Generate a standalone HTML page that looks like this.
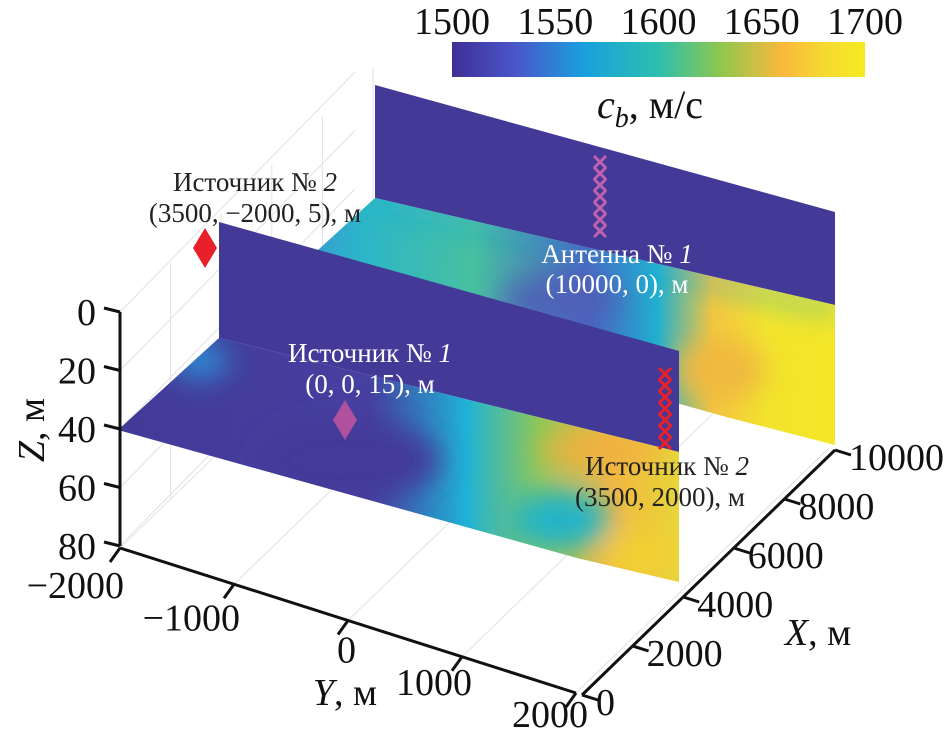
<!DOCTYPE html>
<html><head><meta charset="utf-8"><style>
body{margin:0;background:#fff;width:951px;height:735px;overflow:hidden}
svg{display:block;font-family:"Liberation Serif",serif}
</style></head><body>
<svg id="chart" width="951" height="735" viewBox="0 0 951 735">
<defs>
<linearGradient id="cb" x1="0" x2="1" y1="0" y2="0">
<stop offset="0" stop-color="#3e2f96"/><stop offset="0.15" stop-color="#4a55c8"/><stop offset="0.32" stop-color="#1aa0de"/><stop offset="0.5" stop-color="#2cbfae"/><stop offset="0.65" stop-color="#8fc74e"/><stop offset="0.8" stop-color="#f9b93c"/><stop offset="0.9" stop-color="#f6d831"/><stop offset="1" stop-color="#f4ec22"/>
</linearGradient>
<linearGradient id="backLow" gradientUnits="userSpaceOnUse" x1="280" y1="0" x2="835" y2="0">
<stop offset="0" stop-color="#3a8ed8"/><stop offset="0.15" stop-color="#2cb6c8"/><stop offset="0.35" stop-color="#48c0a0"/><stop offset="0.55" stop-color="#4a60c0"/><stop offset="0.68" stop-color="#20b0d0"/><stop offset="0.78" stop-color="#f2c640"/><stop offset="0.88" stop-color="#f2e42c"/><stop offset="1" stop-color="#f4e628"/>
</linearGradient>
<linearGradient id="frontLow" gradientUnits="userSpaceOnUse" x1="118" y1="0" x2="680" y2="0">
<stop offset="0" stop-color="#433a98"/><stop offset="0.45" stop-color="#4640a0"/><stop offset="0.62" stop-color="#1fb2d6"/><stop offset="0.75" stop-color="#8cc757"/><stop offset="0.88" stop-color="#f2b83e"/><stop offset="1" stop-color="#e7d63a"/>
</linearGradient>
<filter id="bl" filterUnits="userSpaceOnUse" x="0" y="0" width="951" height="735"><feGaussianBlur stdDeviation="14"/></filter>
<clipPath id="cpBack"><polygon points="375,198 835,305 835,445 730,418 274,290"/></clipPath>
<clipPath id="cpFront"><polygon points="219,338 679,452 679,582 577,558 118,430"/></clipPath>
</defs>

<g id="grid" stroke="#e2e2e2" stroke-width="1"></g>

<g>
<polygon points="375,85 835,212 835,305 375,198" fill="#433a98"/>
<polygon points="375,198 835,305 835,445 730,418 274,290" fill="url(#backLow)"/>
<g clip-path="url(#cpBack)">
<g filter="url(#bl)">
<polygon points="375,198 835,305 835,312 375,205" fill="#1ea8d8"/>
<ellipse cx="560" cy="300" rx="60" ry="22" fill="#5060b8"/>
<ellipse cx="720" cy="370" rx="45" ry="30" fill="#f0b840"/>
</g>
</g>
</g>

<g>
<polygon points="219,222 679,351 679,452 219,338" fill="#433a98"/>
<polygon points="219,338 679,452 679,582 577,558 118,430" fill="url(#frontLow)"/>
<g clip-path="url(#cpFront)">
<g filter="url(#bl)">
<ellipse cx="200" cy="360" rx="28" ry="18" fill="#2a90d8"/>
<ellipse cx="350" cy="460" rx="90" ry="40" fill="#433a98"/>
<ellipse cx="600" cy="450" rx="60" ry="18" fill="#f0b040"/>
<ellipse cx="560" cy="520" rx="50" ry="30" fill="#20b4c8"/>
<ellipse cx="640" cy="555" rx="35" ry="25" fill="#f2d030"/>
</g>
</g>
</g>

<polygon points="205,228 217,248 205,268 193,248" fill="#e8202a"/>
<polygon points="345,400 357,420 345,440 333,420" fill="#b0509e"/>
<g id="crosses"></g>

<g font-size="27" text-anchor="middle">
<text x="255" y="191" fill="#222">Источник № <tspan font-style="italic">2</tspan></text>
<text x="255" y="222" fill="#222">(3500, −2000, 5), м</text>
<text x="617" y="263" fill="#fff">Антенна № <tspan font-style="italic">1</tspan></text>
<text x="617" y="293" fill="#fff">(10000, 0), м</text>
<text x="370" y="362" fill="#fff">Источник № <tspan font-style="italic">1</tspan></text>
<text x="370" y="393" fill="#fff">(0, 0, 15), м</text>
<text x="667" y="475" fill="#222">Источник № <tspan font-style="italic">2</tspan></text>
<text x="660" y="506" fill="#222">(3500, 2000), м</text>
</g>

<g id="axes" stroke="#111" stroke-width="3" fill="#111" font-size="38"></g>

<g>
<rect x="452" y="42" width="413" height="35" fill="url(#cb)"/>
<g id="cbTicks" font-size="38" text-anchor="middle" fill="#111"></g>
<text x="650" y="118" font-size="40" text-anchor="middle" fill="#111"><tspan font-style="italic">c</tspan><tspan font-style="italic" font-size="28" dy="9">b</tspan><tspan dy="-9">, м/с</tspan></text>
</g>
</svg>
<script>
const zTicks=[0,20,40,60,80];
const yTicks=[-2000,-1000,0,1000,2000];
const xTicks=[0,2000,4000,6000,8000,10000];
const cbTicks=[1500,1550,1600,1650,1700];
const crossRed=[0,1,2,3,4,5,6];
const crossMag=[0,1,2,3,4,5,6];
const NS='http://www.w3.org/2000/svg';
function mk(t,a,p){const e=document.createElementNS(NS,t);for(const k in a)e.setAttribute(k,a[k]);p.appendChild(e);return e;}
const zy=v=>312+v*(546-312)/80;
const yp=v=>{const t=(v+2000)/4000;return [120+t*456,548+t*145];};
const xp=v=>{const t=v/10000;return [582+t*253,695-t*245];};
const cbx=v=>452+(v-1500)/200*413;
const ax=document.getElementById('axes');
const grid=document.getElementById('grid');
zTicks.forEach(v=>{const l=mk('line',{x1:120,y1:zy(v),x2:355,y2:zy(v)-240,fill:'none'},grid);

});
xTicks.forEach(v=>{const p=xp(v);const dx=p[0]-582,dy=p[1]-695;const l=mk('line',{x1:120+dx,y1:548+dy,x2:120+dx,y2:312+dy,fill:'none'},grid);

});
yTicks.forEach(v=>{const p=yp(v);const l=mk('line',{x1:p[0],y1:p[1],x2:p[0]+253,y2:p[1]-245,fill:'none'},grid);

});
let l=mk('line',{x1:120,y1:zy(0),x2:120,y2:zy(80)},ax);


zTicks.forEach(v=>{const y=zy(v);mk('line',{x1:120,y1:y,x2:104,y2:y-4},ax);
const t=mk('text',{x:96,y:y+13,'text-anchor':'end',stroke:'none'},ax);t.textContent=v;

});
const zl=mk('text',{x:0,y:0,transform:'translate(44,430) rotate(-90)','text-anchor':'middle',stroke:'none'},ax);
zl.innerHTML='<tspan font-style="italic">Z</tspan>, м';


const y0=yp(-2000),y1=yp(2000);
l=mk('line',{x1:y0[0],y1:y0[1],x2:y1[0],y2:y1[1]},ax);


yTicks.forEach(v=>{const p=yp(v);const t0=(v+2000)/4000;mk('line',{x1:p[0],y1:p[1],x2:p[0]-10,y2:p[1]+14},ax);
const t=mk('text',{x:p[0]+4+t0*8,y:p[1]+50-t0*16,'text-anchor':'end',stroke:'none'},ax);t.textContent=v<0?'−'+(-v):v;

});
const yl=mk('text',{x:345,y:705,'text-anchor':'middle',stroke:'none'},ax);
yl.innerHTML='<tspan font-style="italic">Y</tspan>, м';


const x0=xp(0),x1=xp(10000);
l=mk('line',{x1:x0[0],y1:x0[1],x2:x1[0],y2:x1[1]},ax);


xTicks.forEach(v=>{const p=xp(v);mk('line',{x1:p[0],y1:p[1],x2:p[0]+16,y2:p[1]+5},ax);
const t=mk('text',{x:p[0]+14,y:p[1]+20,'text-anchor':'start',stroke:'none'},ax);t.textContent=v;

});
const xl=mk('text',{x:818,y:645,'text-anchor':'middle',stroke:'none'},ax);
xl.innerHTML='<tspan font-style="italic">X</tspan>, м';


const cbg=document.getElementById('cbTicks');
cbTicks.forEach(v=>{const t=mk('text',{x:cbx(v),y:34},cbg);t.textContent=v;

});
const cg=document.getElementById('crosses');
function crosses(arr,x,y0,step,col,name){arr.forEach(i=>{const y=y0+i*step;
const p=mk('path',{d:`M${x-6},${y-6}L${x+6},${y+6}M${x+6},${y-6}L${x-6},${y+6}`,stroke:col,'stroke-width':3,fill:'none'},cg);

});}
crosses(crossMag,600,162,11.5,'#c060b0','antenna-1-element');
crosses(crossRed,665,374,11.5,'#e8202a','antenna-2-element');
</script>
</body></html>
